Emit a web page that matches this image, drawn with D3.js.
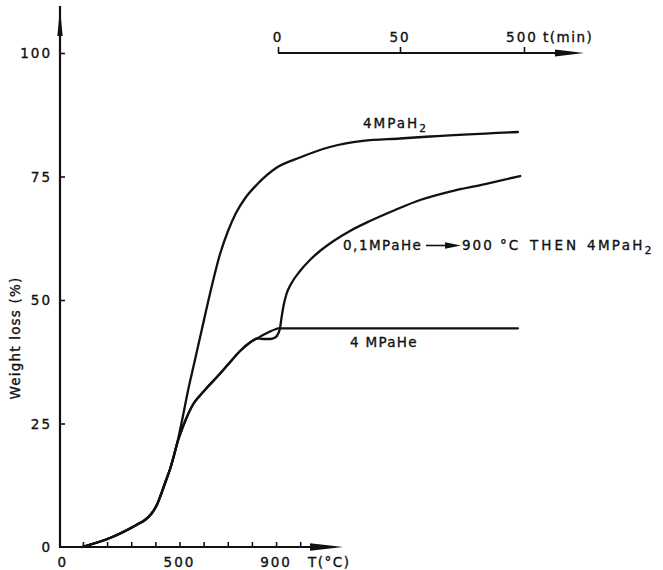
<!DOCTYPE html>
<html><head><meta charset="utf-8">
<script src="https://cdn.jsdelivr.net/npm/d3@7"></script>
<style>
body{margin:0;background:#fff}
text{font-family:"DejaVu Sans",sans-serif;fill:#111;stroke:#111;stroke-width:0.35px}
</style>
</head><body>
<svg id="c" width="663" height="570"></svg>
<script>
// ---- data ----
const tempTicks = [100,200,300,400,500,600,700,800,900,1000];
const tempLabels = [0,500,900];
const timeTicks = [0,50,500];
const weightTicks = [25,50,75,100];

// shared heating part of all curves: [T °C, weight loss %]
const commonHeat = [[96,0],[212,1.82],[336,4.86],[357,5.47],[386,6.88],[407,8.60],[424,10.73],[444,13.46],[461,15.79],[477,18.52],[490,20.95]];
// 4 MPa H2 : heating [T, %] then isothermal [t min, %]
const h2Heat = [[510,25.51],[535,31.58],[564,37.85],[593,44.13],[626,51.21],[668,59.31],[701,63.97],[734,67.61],[771,70.55],[821,73.38],[900,76.72]];
const h2Iso  = [[9.0,78.85],[21.3,80.97],[34.8,82.19],[50,82.69],[159,83.10],[478,84.01]];
// helium heating shared by 4 MPa He and 0.1 MPa He
const heHeat = [[506,23.28],[527,25.91],[556,28.85],[585,30.67],[618,32.49],[655,34.41],[701,36.94],[751,39.68],[792,41.40],[821,42.21]];
// 4 MPa He
const he4Heat = [[850,43.02],[875,43.62],[900,44.13]];
const he4Iso  = [[0,44.27],[50,44.27],[200,44.27],[478,44.27]];
// 0.1 MPa He -> 900 °C then 4 MPa H2
const mixHeat = [[846,42.11],[875,42.11],[896,42.41]];
const mixIso  = [[0.2,43.32],[0.82,44.33],[1.43,46.36],[2.25,48.79],[3.48,51.21],[5.33,53.24],[9.02,55.87],[13.1,58.10],[17.2,59.92],[23.4,62.15],[29.5,63.97],[37.7,65.99],[48,68.22],[123,70.24],[232,71.96],[359,73.48],[486,75.10]];

// ---- scales ----
const svg = d3.select("#c");
const xT = d3.scaleLinear().domain([0,1000]).range([58.8,300.2]);
const xt = d3.scaleLinear().domain([0,50,500]).range([278,400,524]);
const y  = d3.scaleLinear().domain([0,100]).range([547,53]);

const ink = "#111";

// ---- curves ----
function pts(heat, iso){
  return heat.map(d=>[xT(d[0]), y(d[1])]).concat(iso.map(d=>[xt(d[0]), y(d[1])]));
}
const line = d3.line().curve(d3.curveMonotoneX);
const series = [
  pts(commonHeat.concat(h2Heat), h2Iso),
  pts(commonHeat.concat(heHeat, he4Heat), he4Iso),
  pts(commonHeat.concat(heHeat, mixHeat), mixIso)
];
svg.selectAll("path.curve").data(series).join("path")
  .attr("class","curve").attr("d",line)
  .attr("fill","none").attr("stroke",ink).attr("stroke-width",2.3)
  .attr("stroke-linejoin","round").attr("stroke-linecap","round");

// ---- temperature axis (bottom) ----
const gx = svg.append("g").attr("transform","translate(0,547)")
  .call(d3.axisTop(xT).tickValues(tempTicks).tickSize(5).tickSizeOuter(0).tickFormat(""));
gx.select(".domain").remove();
gx.selectAll(".tick line").attr("stroke",ink).attr("stroke-width",1.6);
svg.append("line").attr("x1",60).attr("x2",315).attr("y1",547).attr("y2",547)
  .attr("stroke",ink).attr("stroke-width",2.2);
svg.append("path").attr("d","M310,543.2L343,547L310,550.8Z").attr("fill",ink);
svg.selectAll("text.tl").data(tempLabels).join("text").attr("class","tl")
  .attr("x",d=>xT(d)+(d===0?4:0)).attr("y",567).attr("text-anchor","middle")
  .attr("font-size",13.5).attr("letter-spacing",2).text(d=>d);
svg.append("text").attr("x",308).attr("y",567).attr("font-size",13.5).attr("letter-spacing",1.5).text("T(°C)");

// ---- weight axis (left) ----
const gy = svg.append("g").attr("transform","translate(60,0)")
  .call(d3.axisRight(y).tickValues(weightTicks).tickSize(5).tickSizeOuter(0).tickFormat(""));
gy.select(".domain").remove();
gy.selectAll(".tick line").attr("stroke",ink).attr("stroke-width",1.6);
svg.append("line").attr("x1",60).attr("x2",60).attr("y1",548).attr("y2",6)
  .attr("stroke",ink).attr("stroke-width",2.2);
svg.append("path").attr("d","M57.3,36L60,9L62.7,36Z").attr("fill",ink);
svg.selectAll("text.wl").data([0].concat(weightTicks)).join("text").attr("class","wl")
  .attr("x",52).attr("y",d=>y(d)+5).attr("text-anchor","end")
  .attr("font-size",13.5).attr("letter-spacing",2).text(d=>d);
svg.append("text").attr("transform","translate(20,338) rotate(-90)")
  .attr("text-anchor","middle").attr("font-size",13.5).attr("letter-spacing",1.2)
  .text("Weight loss (%)");

// ---- time axis (top) ----
const gt = svg.append("g").attr("transform","translate(0,53)")
  .call(d3.axisTop(xt).tickValues(timeTicks).tickSize(6).tickSizeOuter(0).tickFormat(""));
gt.select(".domain").remove();
gt.selectAll(".tick line").attr("stroke",ink).attr("stroke-width",1.6);
svg.append("line").attr("x1",278).attr("x2",560).attr("y1",53).attr("y2",53)
  .attr("stroke",ink).attr("stroke-width",1.8);
svg.append("path").attr("d","M555,49.6L584,53L555,56.4Z").attr("fill",ink);
svg.selectAll("text.ttl").data(timeTicks).join("text").attr("class","ttl")
  .attr("x",d=>xt(d)-(d===500?2:0)).attr("y",42).attr("text-anchor","middle")
  .attr("font-size",13.5).attr("letter-spacing",2).text(d=>d);
svg.append("text").attr("x",543).attr("y",42).attr("font-size",13.5).attr("letter-spacing",1.5).text("t(min)");

// ---- curve labels ----
function label(x, yy, parts, ls){
  const t = svg.append("text").attr("x",x).attr("y",yy).attr("font-size",13.5).attr("letter-spacing",ls);
  parts.forEach(p=>{
    const s = t.append("tspan").text(p.s);
    if(p.sub) s.attr("font-size",10.5).attr("dy",4);
  });
  return t;
}
label(363,128,[{s:"4MPaH"},{s:"2",sub:true}],2);
label(350,347,[{s:"4 MPaHe"}],1.3);
label(343,250,[{s:"0,1MPaHe"}],1.5);
svg.append("line").attr("x1",426).attr("x2",452).attr("y1",245.5).attr("y2",245.5).attr("stroke",ink).attr("stroke-width",1.6);
svg.append("path").attr("d","M445,242.3L461,245.5L445,248.7Z").attr("fill",ink);
label(462,250,[{s:"900 °C"}],2);
label(530,250,[{s:"THEN"}],3);
label(587,250,[{s:"4MPaH"},{s:"2",sub:true}],2.3);
</script>
</body></html>
